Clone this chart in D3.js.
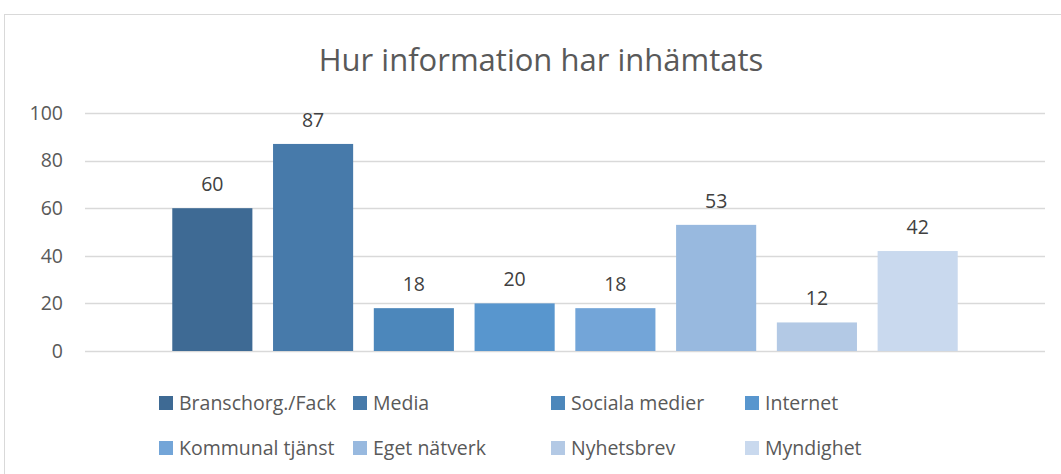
<!DOCTYPE html>
<html>
<head>
<meta charset="utf-8">
<script src="https://cdn.jsdelivr.net/npm/d3@7"></script>
<style>
  body { margin: 0; background: #fff; }
  svg { display: block; font-family: "Open Sans", sans-serif; }
</style>
</head>
<body>
<div id="chart"></div>
<script>
// chart data
const series  = ["Branschorg./Fack", "Media", "Sociala medier", "Internet",
                 "Kommunal tjänst", "Eget nätverk", "Nyhetsbrev", "Myndighet"];
const values  = [60, 87, 18, 20, 18, 53, 12, 42];
const colors  = ["#3e6a94", "#477aaa", "#4c87bb", "#5896ce",
                 "#73a5d8", "#98b9df", "#b3c9e5", "#c9d9ee"];
const yTicks  = [0, 20, 40, 60, 80, 100];
const title   = "Hur information har inhämtats";

const W = 1061, H = 474;
const plot = { left: 85, right: 1045, top: 113, bottom: 351 };

const svg = d3.select("#chart")
  .append("svg")
    .attr("width", W)
    .attr("height", H);

// outer chart border
svg.append("rect")
    .attr("x", 4.5).attr("y", 14.5)
    .attr("width", W + 10).attr("height", H)
    .attr("fill", "none")
    .attr("stroke", "#d9d9d9");

svg.append("text")
    .attr("x", 541).attr("y", 71)
    .attr("text-anchor", "middle")
    .attr("font-size", 31)
    .attr("fill", "#595959")
    .text(title);

const y = d3.scaleLinear().domain([0, 100]).range([plot.bottom, plot.top]);

// one category, eight series clustered around the centre
const mid = (plot.left + plot.right) / 2;
const step = 100.7;
const x = d3.scaleBand()
  .domain(series)
  .range([mid - 4 * step, mid + 4 * step])
  .paddingInner(0.205)
  .paddingOuter(0.1);

// gridlines
svg.append("g")
  .selectAll("line")
  .data(yTicks)
  .join("line")
    .attr("x1", plot.left).attr("x2", plot.right)
    .attr("y1", d => Math.round(y(d)) + 0.5)
    .attr("y2", d => Math.round(y(d)) + 0.5)
    .attr("stroke", "#d9d9d9")
    .attr("stroke-width", 1.3);

// y axis labels
const yAxis = svg.append("g")
    .attr("transform", "translate(" + (plot.left - 22) + ",0)")
    .call(d3.axisLeft(y).tickValues(yTicks).tickSize(0).tickPadding(0));
yAxis.select(".domain").remove();
yAxis.selectAll("text")
    .attr("font-family", "Open Sans, sans-serif")
    .attr("font-size", 19.5)
    .attr("fill", "#595959");

// bars
svg.append("g")
  .selectAll("rect")
  .data(series)
  .join("rect")
    .attr("x", d => x(d))
    .attr("width", x.bandwidth())
    .attr("y", (d, i) => y(values[i]))
    .attr("height", (d, i) => y(0) - y(values[i]))
    .attr("fill", (d, i) => colors[i]);

// value labels
svg.append("g")
  .selectAll("text")
  .data(series)
  .join("text")
    .attr("x", d => x(d) + x.bandwidth() / 2)
    .attr("y", (d, i) => y(values[i]) - 17)
    .attr("text-anchor", "middle")
    .attr("font-size", 19.5)
    .attr("fill", "#404040")
    .text((d, i) => values[i]);

// legend, two rows of four
const legendCols = [159, 353, 551, 745];
const legendRows = [403, 448];
const legend = svg.append("g")
  .selectAll("g")
  .data(series)
  .join("g")
    .attr("transform", (d, i) =>
      "translate(" + legendCols[i % 4] + "," + legendRows[Math.floor(i / 4)] + ")");

legend.append("rect")
    .attr("x", 0).attr("y", -7)
    .attr("width", 14).attr("height", 14)
    .attr("fill", (d, i) => colors[i]);

legend.append("text")
    .attr("x", 20).attr("y", 0)
    .attr("dy", "0.35em")
    .attr("font-size", 19.5)
    .attr("fill", "#595959")
    .text(d => d);
</script>
</body>
</html>
